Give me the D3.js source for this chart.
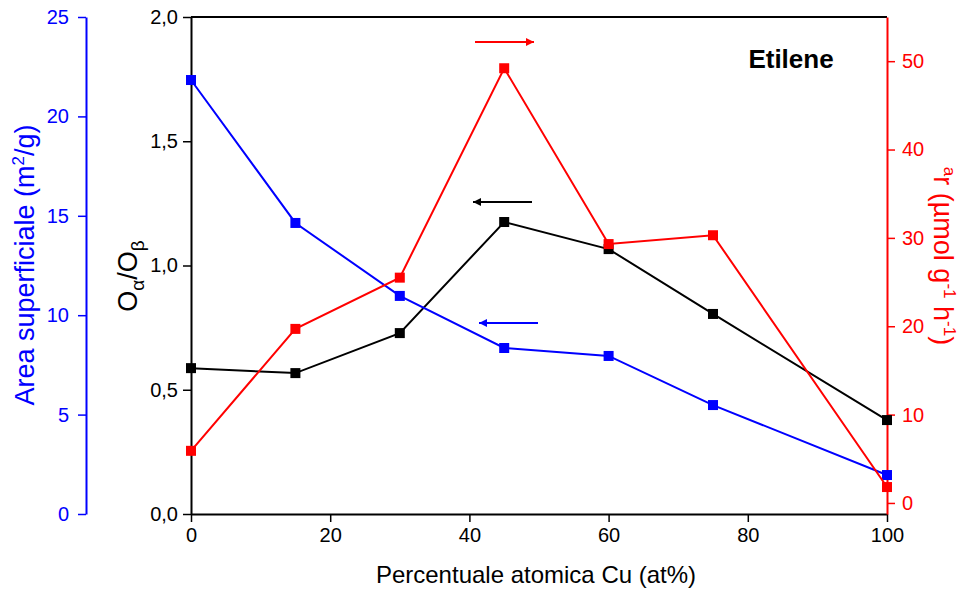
<!DOCTYPE html>
<html><head><meta charset="utf-8">
<script src="https://cdn.jsdelivr.net/npm/d3@7"></script>
<style>
body{margin:0;background:#fff;}
text{font-family:Arial,"Liberation Sans",sans-serif;}
</style></head>
<body><svg id="c" width="966" height="589"></svg>
<script>
const cuPercent = [0, 15, 30, 45, 60, 75, 100];
const ratioOaOb = [0.587, 0.567, 0.728, 1.175, 1.066, 0.805, 0.378];
const surfaceArea = [21.83, 14.64, 10.97, 8.35, 7.95, 5.48, 1.96];
const rate = [5.9, 19.7, 25.5, 49.2, 29.3, 30.3, 1.8];
const xTicks = [0, 20, 40, 60, 80, 100];
const ratioTicks = [0, 0.5, 1.0, 1.5, 2.0];
const areaTicks = [0, 5, 10, 15, 20, 25];
const rateTicks = [0, 10, 20, 30, 40, 50];

const svg = d3.select("#c");
const L = 191, R = 887, T = 17, B = 514;
const x = d3.scaleLinear().domain([0, 100]).range([L, R]);
const yK = d3.scaleLinear().domain([0, 2]).range([B, T]);
const yB = d3.scaleLinear().domain([0, 25]).range([B, T]);
const yR = d3.scaleLinear().domain([-1.25, 55]).range([B, T]);
const comma = v => d3.format(".1f")(v).replace(".", ",");
const FF = "Arial, 'Liberation Sans', sans-serif";

function styleAxis(g, color, fs) {
  g.selectAll("path").attr("stroke", color).attr("stroke-width", 2);
  g.selectAll("line").attr("stroke", color).attr("stroke-width", 1.5);
  g.selectAll("text").attr("fill", color).style("font-size", fs + "px").style("font-family", FF);
}

// top frame
svg.append("line").attr("x1", L).attr("x2", R).attr("y1", T).attr("y2", T).attr("stroke", "#000").attr("stroke-width", 2);

// x axis
const gx = svg.append("g").attr("transform", `translate(0,${B})`);
gx.call(d3.axisBottom(x).tickValues(d3.range(0, 101, 10)).tickFormat("").tickSize(5).tickSizeOuter(0));
gx.call(d3.axisBottom(x).tickValues(xTicks).tickFormat(d3.format("d")).tickSize(8).tickSizeOuter(0).tickPadding(6));
styleAxis(gx, "#000", 20);

// black left axis
const gk = svg.append("g").attr("transform", `translate(${L},0)`);
gk.call(d3.axisLeft(yK).tickValues(d3.range(0, 2.01, 0.25)).tickFormat("").tickSize(5).tickSizeOuter(0));
gk.call(d3.axisLeft(yK).tickValues(ratioTicks).tickFormat(comma).tickSize(8).tickSizeOuter(0).tickPadding(5));
styleAxis(gk, "#000", 20);

// blue far-left axis
const gb = svg.append("g").attr("transform", `translate(86,0)`);
gb.call(d3.axisLeft(yB).tickValues(d3.range(0, 25.1, 2.5)).tickFormat("").tickSize(5).tickSizeOuter(0));
gb.call(d3.axisLeft(yB).tickValues(areaTicks).tickFormat(d3.format("d")).tickSize(8).tickSizeOuter(0).tickPadding(9));
styleAxis(gb, "#0000ff", 20);

// red right axis
const gr = svg.append("g").attr("transform", `translate(${R},0)`);
gr.call(d3.axisRight(yR).tickValues(d3.range(0, 55.1, 5)).tickFormat("").tickSize(5).tickSizeOuter(0));
gr.call(d3.axisRight(yR).tickValues(rateTicks).tickFormat(d3.format("d")).tickSize(8).tickSizeOuter(0).tickPadding(7));
styleAxis(gr, "#ff0000", 20);

// axis titles
svg.append("text").attr("x", 536).attr("y", 583).attr("text-anchor", "middle")
  .style("font-size", "24px").attr("fill", "#000").text("Percentuale atomica Cu (at%)");

const tb = svg.append("text").attr("transform", "translate(34,265) rotate(-90)").attr("text-anchor", "middle")
  .style("font-size", "27px").attr("fill", "#0000ff");
tb.append("tspan").text("Area superficiale (m");
tb.append("tspan").attr("dy", -10).style("font-size", "17px").text("2");
tb.append("tspan").attr("dy", 10).text("/g)");

const tk = svg.append("text").attr("transform", "translate(137,276) rotate(-90)").attr("text-anchor", "middle")
  .style("font-size", "27px").attr("fill", "#000");
tk.append("tspan").text("O");
tk.append("tspan").attr("dy", 7).style("font-size", "19px").text("α");
tk.append("tspan").attr("dy", -7).text("/O");
tk.append("tspan").attr("dy", 7).style("font-size", "19px").text("β");

const tr = svg.append("text").attr("transform", "translate(934,256) rotate(90)").attr("text-anchor", "middle")
  .style("font-size", "27px").attr("fill", "#ff0000");
tr.append("tspan").attr("dy", -10).style("font-size", "17px").text("a");
tr.append("tspan").attr("dy", 10).text("r (µmol g");
tr.append("tspan").attr("dy", -10).style("font-size", "17px").text("-1");
tr.append("tspan").attr("dy", 10).text(" h");
tr.append("tspan").attr("dy", -10).style("font-size", "17px").text("-1");
tr.append("tspan").attr("dy", 10).text(")");

// series
const series = [
  {vals: ratioOaOb, y: yK, color: "#000000"},
  {vals: surfaceArea, y: yB, color: "#0000ff"},
  {vals: rate, y: yR, color: "#ff0000"}
];
series.forEach(s => {
  const pts = cuPercent.map((c, i) => [c, s.vals[i]]);
  svg.append("path").datum(pts)
    .attr("d", d3.line().x(d => x(d[0])).y(d => s.y(d[1])))
    .attr("fill", "none").attr("stroke", s.color).attr("stroke-width", 2);
  svg.selectAll(null).data(pts).enter().append("rect")
    .attr("x", d => x(d[0]) - 5).attr("y", d => s.y(d[1]) - 5)
    .attr("width", 10).attr("height", 10).attr("fill", s.color);
});

// arrows
const defs = svg.append("defs");
[["ar", "#ff0000"], ["ak", "#000000"], ["ab", "#0000ff"]].forEach(([id, c]) => {
  defs.append("marker").attr("id", id).attr("viewBox", "0 0 10 10").attr("refX", 10).attr("refY", 5)
    .attr("markerWidth", 11).attr("markerHeight", 8).attr("markerUnits", "userSpaceOnUse").attr("orient", "auto")
    .append("path").attr("d", "M0,0 L10,5 L0,10 Z").attr("fill", c);
});
const arrows = [
  {x1: 475, x2: 534, y: 42, c: "#ff0000", m: "ar"},
  {x1: 532, x2: 473, y: 202, c: "#000000", m: "ak"},
  {x1: 538, x2: 479, y: 323, c: "#0000ff", m: "ab"}
];
arrows.forEach(a => {
  svg.append("line").attr("x1", a.x1).attr("x2", a.x2).attr("y1", a.y).attr("y2", a.y)
    .attr("stroke", a.c).attr("stroke-width", 2).attr("marker-end", `url(#${a.m})`);
});

svg.append("text").attr("x", 791).attr("y", 68).attr("text-anchor", "middle")
  .style("font-size", "26px").style("font-weight", "bold").attr("fill", "#000").text("Etilene");
</script></body></html>
